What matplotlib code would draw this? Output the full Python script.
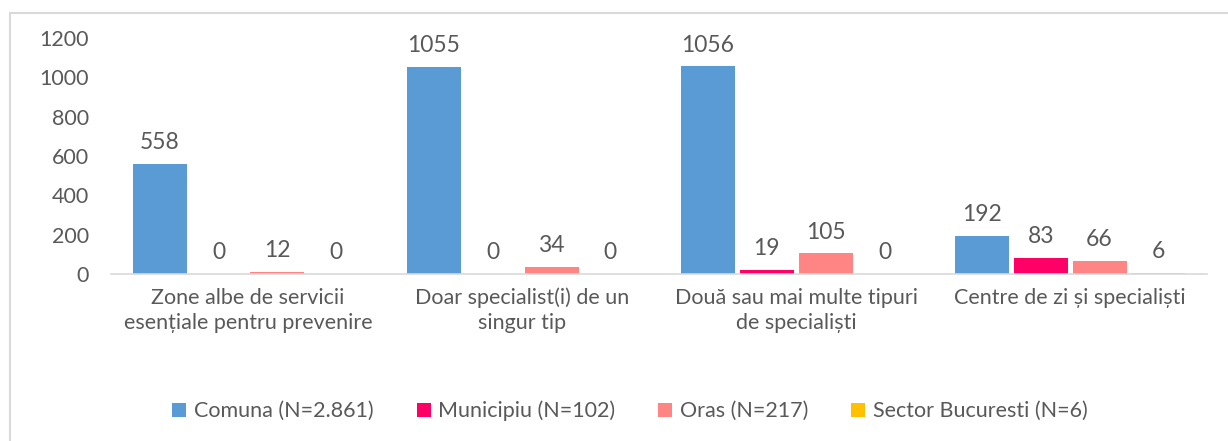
import numpy as np
import matplotlib.pyplot as plt
from matplotlib.patches import Rectangle

categories = ["Zone albe de servicii\nesențiale pentru prevenire",
              "Doar specialist(i) de un\nsingur tip",
              "Două sau mai multe tipuri\nde specialiști",
              "Centre de zi și specialiști"]
series = ["Comuna (N=2.861)", "Municipiu (N=102)", "Oras (N=217)", "Sector Bucuresti (N=6)"]
comuna = [558, 1055, 1056, 192]
municipiu = [0, 0, 19, 83]
oras = [12, 34, 105, 66]
sector = [0, 0, 0, 6]
colors = ["#5B9BD5", "#FF0066", "#FF8585", "#FFC000"]
yticks = [0, 200, 400, 600, 800, 1000, 1200]

plt.rcParams['font.family'] = ['Lato', 'DejaVu Sans']
txt = "#595959"

fig = plt.figure(figsize=(12.28, 4.41), dpi=100)
ax = fig.add_axes([0.0904, 0.3787, 0.8926, 0.5351])

x = np.arange(len(categories))
w = 0.197
step = 0.215
for i, vals in enumerate([comuna, municipiu, oras, sector]):
    pos = x + (i - 1.5) * step
    ax.bar(pos, vals, w, color=colors[i], label=series[i])
    for xp, v in zip(pos, vals):
        ax.text(xp, v + 55, str(v), ha='center', va='bottom', fontsize=16.5, color=txt)

ax.set_xlim(-0.5, 3.5)
ax.set_ylim(0, 1200)
ax.set_yticks(yticks)
ax.set_xticks(x)
ax.set_xticklabels(categories, fontsize=15.5, color=txt, linespacing=1.3)
ax.tick_params(axis='y', length=0, labelsize=15.5, labelcolor=txt, pad=16)
ax.tick_params(axis='x', length=0, pad=10)
for s in ['top', 'right', 'left']:
    ax.spines[s].set_visible(False)
ax.spines['bottom'].set_color('#D9D9D9')
ax.spines['bottom'].set_linewidth(1.2)

leg = fig.legend(loc='center', bbox_to_anchor=(0.513, 0.068), ncol=4, frameon=False,
                 fontsize=15.5, handlelength=0.65, handleheight=0.65, handletextpad=0.35,
                 columnspacing=2.0)
for t in leg.get_texts():
    t.set_color(txt)

fig.patches.append(Rectangle((10 / 1228, -0.1), 1.2, 1 - 13 / 441 + 0.1, transform=fig.transFigure,
                             fill=False, edgecolor='#D9D9D9', linewidth=1.5))

fig.savefig("out.png", dpi=100)
